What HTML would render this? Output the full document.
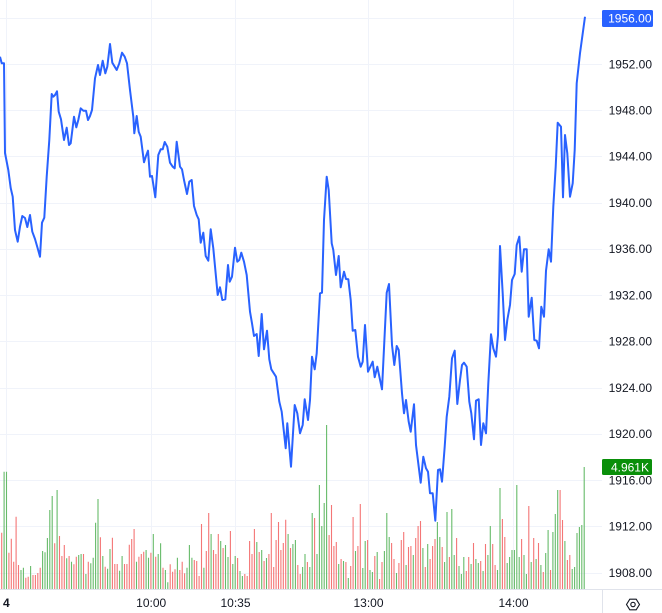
<!DOCTYPE html>
<html><head><meta charset="utf-8"><style>
html,body{margin:0;padding:0;background:#fff;}
svg{display:block;}
text{font-family:"Liberation Sans",Arial,sans-serif;font-size:12px;fill:#131722;}
</style></head><body>
<svg width="662" height="613" viewBox="0 0 662 613" xmlns="http://www.w3.org/2000/svg">
<rect width="662" height="613" fill="#fff"/>
<g stroke="#f0f3fa" stroke-width="1">
<path d="M0 18.5H602M0 64.5H602M0 110.5H602M0 156.5H602M0 203.5H602M0 249.5H602M0 295.5H602M0 341.5H602M0 388.5H602M0 434.5H602M0 480.5H602M0 526.5H602M0 573.5H602"/>
<path d="M6.5 0V589M151.5 0V589M235.5 0V589M368.5 0V589M513.5 0V589"/>
</g>
<path stroke="#67bb6a" stroke-width="1.1" fill="none" d="M4.1 589V471.7M6.5 589V471.7M21 589V570M23.4 589V567.7M30.6 589V566M42.6 589V551M45 589V552.3M47.4 589V538M49.8 589V510M52.2 589V496M57.1 589V490M66.7 589V558.3M71.5 589V561.7M78.7 589V555M81.1 589V554M85.9 589V574M90.8 589V563.3M93.2 589V557.7M95.6 589V522.7M98 589V499M102.8 589V556M107.6 589V568.7M110 589V549M119.6 589V570.7M122.1 589V556M136.5 589V561.7M146.1 589V550M148.5 589V557.7M153.3 589V534M158.2 589V554M160.6 589V543.3M165.4 589V570M167.8 589V582.3M177.4 589V557.7M187 589V567.7M189.4 589V545M191.9 589V557.7M203.9 589V567.7M211.1 589V534M220.7 589V541M225.5 589V545M228 589V557M232.8 589V564M235.2 589V556M240 589V571M242.4 589V576M256.8 589V542M261.7 589V550M266.5 589V558M288.1 589V534M292.9 589V544M295.4 589V540M302.6 589V567M305 589V554M309.8 589V567M312.2 589V513M317 589V554M319.4 589V485M321.8 589V526M324.2 589V503M326.6 589V425M338.7 589V564M343.5 589V561M348.3 589V578M355.5 589V551M362.8 589V568M365.2 589V541M370 589V570M372.4 589V572M377.2 589V552M384.4 589V551M386.8 589V513M389.2 589V537M396.5 589V573M406.1 589V565M413.3 589V555M422.9 589V548M427.7 589V544M437.4 589V522M439.8 589V537M444.6 589V562M447 589V512M451.8 589V509M454.2 589V555M459 589V566M461.4 589V574M463.8 589V557M471.1 589V564M475.9 589V559M478.3 589V563M483.1 589V571M487.9 589V555M490.3 589V526M497.5 589V570M500 589V488M507.2 589V563M509.6 589V557M512 589V550M514.4 589V550M516.8 589V485M519.2 589V557M524 589V555M526.4 589V574M531.2 589V562M536.1 589V559M540.9 589V565M545.7 589V553M548.1 589V530M552.9 589V532M555.3 589V514M557.7 589V490M564.9 589V541M572.2 589V569M574.6 589V567M577 589V533M579.4 589V527M581.8 589V525M584.2 589V467"/>
<path stroke="#f47676" stroke-width="1.1" fill="none" d="M1.7 589V532.7M8.9 589V552.7M11.3 589V538.7M13.7 589V561.7M16.1 589V516.7M18.5 589V565M25.8 589V577.7M28.2 589V576.7M33 589V575M35.4 589V575M37.8 589V573M40.2 589V567.7M54.7 589V543.3M59.5 589V536M61.9 589V556M64.3 589V545M69.1 589V556M73.9 589V564.3M76.3 589V556.7M83.5 589V554M88.3 589V561.7M100.4 589V537.3M105.2 589V566.7M112.4 589V537.7M114.8 589V564M117.2 589V564M124.5 589V564M126.9 589V564M129.3 589V544.7M131.7 589V539M134.1 589V529M138.9 589V556.7M141.3 589V554M143.7 589V551.7M150.9 589V552.7M155.7 589V556.7M163 589V567.7M170.2 589V564.3M172.6 589V571.7M175 589V569.3M179.8 589V570M182.2 589V561.7M184.6 589V573.3M194.3 589V560M196.7 589V561M199.1 589V576M201.5 589V524M206.3 589V551M208.7 589V513M213.5 589V550M215.9 589V554M218.3 589V534M223.1 589V548M230.4 589V531M237.6 589V558M244.8 589V574M247.2 589V576M249.6 589V541M252 589V554M254.4 589V529M259.2 589V552M264.1 589V561M268.9 589V554M271.3 589V513M273.7 589V567M276.1 589V540M278.5 589V522M280.9 589V550M283.3 589V543M285.7 589V519.7M290.5 589V548M297.8 589V565M300.2 589V574M307.4 589V562M314.6 589V518M329.1 589V535M331.5 589V505M333.9 589V546M336.3 589V542M341.1 589V559M345.9 589V562M350.7 589V566M353.1 589V517M357.9 589V546M360.3 589V504M367.6 589V540M374.8 589V556M379.6 589V579M382 589V562M391.6 589V543M394 589V559M398.9 589V563M401.3 589V540M403.7 589V532M408.5 589V547M410.9 589V546M415.7 589V538M418.1 589V526M420.5 589V521M425.3 589V567M430.1 589V559M432.6 589V546M435 589V539M442.2 589V547M449.4 589V557M456.6 589V538M466.3 589V571M468.7 589V557M473.5 589V543M480.7 589V561M485.5 589V544M492.7 589V544M495.1 589V565M502.4 589V519M504.8 589V537M521.6 589V539M528.8 589V506M533.7 589V538M538.5 589V543M543.3 589V572M550.5 589V570M560.1 589V490M562.5 589V520M567.4 589V560M569.8 589V555"/>
<polyline fill="none" stroke="#2962ff" stroke-width="2" stroke-linejoin="round" points="0,56.7 1.7,63.3 4,63.3 5,153 8.3,170 10.7,188 12.7,196.7 15,230 17.7,241.7 20,226.7 22.3,216 25,218 27.3,227 30,215 32.3,231.7 35,239 37.3,247 40,256.7 42,222.7 44.3,217.7 46.7,176.7 49.3,140 51.7,94 53.3,96.7 55,95 57,91.3 58.7,111.7 61,119.3 64,140 66.7,127.7 69,145 70.7,143.3 74,116.7 76.3,127.3 78.3,120 80.7,108.3 83.3,110.7 86,110.7 88,120 90,116 92,110 95,78.3 98,65 100,75 102.7,60.7 105.3,73.3 107.3,66.7 110,44 112.3,62.7 116.7,70 119.3,63.3 122,52.7 124.7,56.7 127,63.3 130,90 133.3,116.7 134.3,133.3 136.7,116 138.7,131.7 140.7,136.7 144,162.3 146,156 148,150.7 150,176.7 152,176 155.3,197.3 158.3,155 160.7,149.3 162.7,149.3 164.7,142 167.3,146.7 170,162.7 172.7,166.7 174.7,168.3 176.7,141.7 180,166.7 182,169.3 184,180 187,194 189.3,181.7 191.7,180 194,206 196.7,215 198.7,219.3 200.7,242.7 203.3,232.7 205.7,256 208.3,260.7 210.7,229.3 213.3,248.3 217.7,295 220,287.3 222.3,300 225.3,299.3 228,265 229.7,281.7 232,276.7 235,247.7 237.3,261.7 239.3,260 241.3,252.7 244,261.7 246.7,275 250,311.7 252,323.3 254,336 256.7,334 258.7,356 261.7,314 264,349.3 267,330.7 269.3,359.3 271.3,369.3 276,376.7 279.3,401.7 281.7,411.7 285.7,448.3 287.3,423.3 291,466.7 294.7,405 297.3,413.3 300,433.3 302.7,425 304.7,399.3 308,420 310,400 312,356.7 314.7,369.3 316.7,353.3 320,293.3 322,292.7 324,220 326.7,176.7 328.7,190 331.7,243.3 333.3,250 336,275 338.7,256 340.7,287.3 344,271.7 346,279 348.3,279.3 350.7,300 352.7,330.7 355.3,330 358,356.7 360.7,366.7 362.7,361.7 365,325 368,371.7 372.7,361.7 374.7,377.3 377.3,366.7 382,389.3 386.7,292.7 389,284 392,345 394.3,365 396.7,346 398.7,350 402,393.3 404,413.3 406,400 408.7,421.7 410.7,431.7 414,404.3 416,445 420.7,482.7 423.3,456.7 426,468.3 428,471.7 430,493.3 432.7,493.3 435.3,520.7 438,470 440,469.3 442,481.7 444.7,446.7 446.7,416.7 449.3,396.7 452,358.3 454.7,350.7 457.3,404 460,380 462,365 464,362.7 466.7,366.7 469.3,401.7 471.3,413.3 474,439.3 476,400.7 478.7,399.3 481,445 483.3,423.3 486,433.3 488.3,383.3 491,334.3 493.3,348.3 496,356.7 498,335 500,246 502.7,293.3 505,340 507.3,320 510,305 512,280 514.7,274 516.7,245 519.3,236.7 521.7,271.7 524,249.3 526.7,249.3 528.7,316.7 531.7,297.7 534.3,340 536.7,340.7 539,348.3 541.3,306.7 544,316.7 546,270.7 548.7,249.3 551,261.7 553.3,206.7 555.7,166.7 557.7,122.7 561,126.7 563,197.3 565,135 567.3,153.3 570,196.7 572.7,183.3 574.7,150 576.7,83.3 580,53.3 585,16.7"/>
<path stroke="#e0e3eb" stroke-width="1" d="M0 589.5H662M602.5 589V613"/>
<g text-anchor="end">
<text x="652" y="68.5">1952.00</text>
<text x="652" y="114.5">1948.00</text>
<text x="652" y="160.7">1944.00</text>
<text x="652" y="207">1940.00</text>
<text x="652" y="253.2">1936.00</text>
<text x="652" y="299.5">1932.00</text>
<text x="652" y="345.7">1928.00</text>
<text x="652" y="392">1924.00</text>
<text x="652" y="438.2">1920.00</text>
<text x="652" y="484.5">1916.00</text>
<text x="652" y="530.7">1912.00</text>
<text x="652" y="577">1908.00</text>
</g>
<rect x="602" y="10" width="51" height="17" rx="1.5" fill="#2962ff"/>
<text x="651.5" y="22.7" text-anchor="end" style="fill:#fff">1956.00</text>
<rect x="602" y="459" width="50" height="16" rx="1.5" fill="#0a8f0a"/>
<text x="649" y="471.3" text-anchor="end" style="fill:#fff">4.961K</text>
<g text-anchor="middle">
<text x="6.3" y="607" style="font-weight:bold">4</text>
<text x="151.2" y="607">10:00</text>
<text x="235.5" y="607">10:35</text>
<text x="368.5" y="607">13:00</text>
<text x="513.5" y="607">14:00</text>
</g>
<g fill="none" stroke="#131722" stroke-width="1.1">
<path d="M626.5 604.5L629.8 599.2H636.2L639.5 604.5L636.2 609.8H629.8Z"/>
<circle cx="633" cy="604.5" r="2.2"/>
</g>
</svg>
</body></html>
